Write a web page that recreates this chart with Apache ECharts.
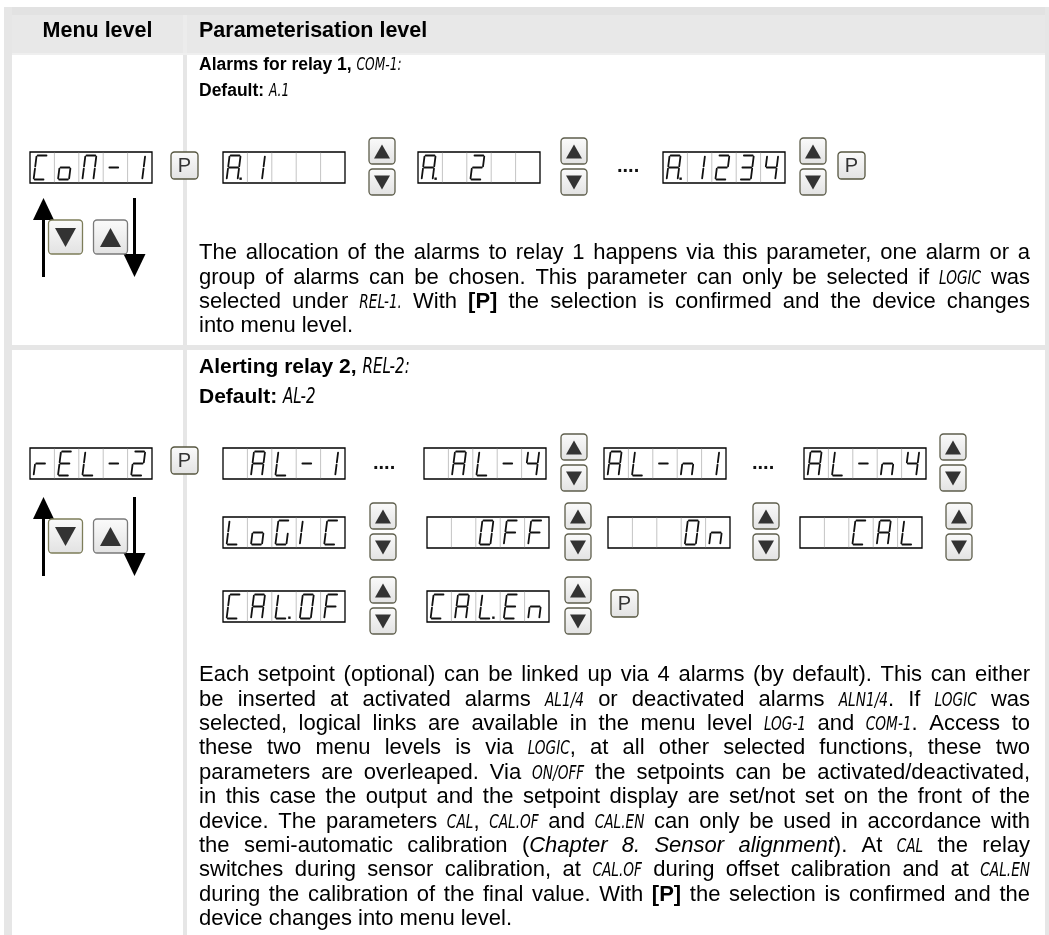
<!DOCTYPE html>
<html><head><meta charset="utf-8">
<script src="https://cdn.jsdelivr.net/npm/echarts@6/dist/echarts.min.js"></script>
<style>html,body{margin:0;padding:0;background:#fff}#c{width:1049px;height:935px}</style>
</head><body><div id="c"></div>
<script>
// ---------------- content ----------------
const headerLabels = ['Menu level', 'Parameterisation level'];
const menuDisplays = ['CoN-1', 'rEL-2'];
const relay1Heading = ['*Alarms for relay 1,* {COM-1:}', '*Default:* {A.1}'];
const relay1Options = ['A.1', 'A. 2', 'A.1234'];
const relay1Text = [
  'The allocation of the alarms to relay 1 happens via this parameter, one alarm or a',
  'group of alarms can be chosen. This parameter can only be selected if {LOGIC} was',
  'selected under {REL-1.} With *[P]* the selection is confirmed and the device changes',
  'into menu level.'
];
const relay2Heading = ['*Alerting relay 2,* {REL-2:}', '*Default:* {AL-2}'];
const relay2OptionsA = [' AL-1', ' AL-4', 'AL-n1', 'AL-n4'];
const relay2OptionsB = ['LoGIC', '  OFF', '   On', '  CAL'];
const relay2OptionsC = ['CAL.OF', 'CAL.En'];
const relay2Text = [
  'Each setpoint (optional) can be linked up via 4 alarms (by default). This can either',
  'be inserted at activated alarms {AL1/4} or deactivated alarms {ALN1/4}. If {LOGIC} was',
  'selected, logical links are available in the menu level {LOG-1} and {COM-1}. Access to',
  'these two menu levels is via {LOGIC}, at all other selected functions, these two',
  'parameters are overleaped. Via {ON/OFF} the setpoints can be activated/deactivated,',
  'in this case the output and the setpoint display are set/not set on the front of the',
  'device. The parameters {CAL}, {CAL.OF} and {CAL.EN} can only be used in accordance with',
  'the semi-automatic calibration (~Chapter 8. Sensor alignment~). At {CAL} the relay',
  'switches during sensor calibration, at {CAL.OF} during offset calibration and at {CAL.EN}',
  'during the calibration of the final value. With *[P]* the selection is confirmed and the',
  'device changes into menu level.'
];

// ---------------- styles / layout ----------------
const FONT = '"Liberation Sans", Arial, Helvetica, sans-serif';
const SEGFONT = '"DejaVu Sans Condensed", "DejaVu Sans", sans-serif';
const SEG_SX = 0.8;
const GRAY = '#e6e6e6';
const CELL_W = 24.4, BOX_H = 31;
const SEG = {a:[0,0,1,0], b:[1,0,1,.5], c:[1,.5,1,1], d:[0,1,1,1], e:[0,.5,0,1], f:[0,0,0,.5], g:[0,.5,1,.5]};
const GLYPHS = {'C':'adef','o':'cdeg','N':'abcef','-':'g','1':'bc','A':'abcefg','2':'abdeg','3':'abcdg','4':'bcfg',
  'r':'eg','E':'adefg','L':'def','n':'ceg','G':'acdef','I':'ef','O':'abcdef','F':'aefg'};

const els = [];
const cv = document.createElement('canvas').getContext('2d');
function fontStr(st){ return st.fontStyle + ' ' + st.fontWeight + ' ' + st.fontSize + 'px ' + st.fontFamily; }
function measure(t, st){ cv.font = fontStr(st); return cv.measureText(t).width * (st.sx || 1); }

function parseMarkup(str){
  const re = /\{([^}]*)\}|\*([^*]*)\*|~([^~]*)~|([^{*~]+)/g; let m; const out = [];
  while ((m = re.exec(str))) {
    if (m[1] !== undefined) out.push({t:m[1], k:'s'});
    else if (m[2] !== undefined) out.push({t:m[2], k:'b'});
    else if (m[3] !== undefined) out.push({t:m[3], k:'i'});
    else out.push({t:m[4], k:'n'});
  }
  return out;
}
function toWords(pieces){
  const words = []; let cur = [];
  pieces.forEach(p => {
    p.t.split(' ').forEach((s, i) => {
      if (i > 0) { if (cur.length) words.push(cur); cur = []; }
      if (s) cur.push({t:s, k:p.k});
    });
  });
  if (cur.length) words.push(cur);
  return words;
}
function styleOf(k, ctx){
  if (k === 's') return {fontFamily:SEGFONT, fontSize:ctx.seg, fontStyle:'italic', fontWeight:'normal', sx:SEG_SX};
  return {fontFamily:FONT, fontSize:(k==='b' ? ctx.bsize : ctx.size), fontWeight:(k==='b' ? 'bold' : 'normal'), fontStyle:(k==='i' ? 'italic' : 'normal')};
}
function layoutLine(str, x, yc, width, justify, ctx){
  const words = toWords(parseMarkup(str));
  const ww = words.map(w => w.reduce((s, p) => s + measure(p.t, styleOf(p.k, ctx)), 0));
  const sum = ww.reduce((a, b) => a + b, 0);
  const sp = (justify && words.length > 1) ? (width - sum) / (words.length - 1) : measure(' ', styleOf('n', ctx));
  const base = yc + 0.358 * ctx.size;
  let cx = x;
  words.forEach(w => {
    w.forEach(p => {
      const st = styleOf(p.k, ctx);
      const yy = base - 0.35 * st.fontSize;
      els.push({type:'text', silent:true, x:cx, y:yy, scaleX:(st.sx || 1), originX:0, originY:0,
        style:{text:p.t, x:0, y:0, fill:'#000', textAlign:'left', textVerticalAlign:'middle',
          fontFamily:st.fontFamily, fontSize:st.fontSize, fontWeight:st.fontWeight, fontStyle:st.fontStyle}});
      cx += measure(p.t, st);
    });
    cx += sp;
  });
}

function cellsOf(str){
  const cells = [];
  for (const ch of str) {
    if (ch === '.' && cells.length) cells[cells.length - 1].dot = true;
    else cells.push({ch:ch, dot:false});
  }
  while (cells.length < 5) cells.push({ch:' ', dot:false});
  return cells;
}
function display(x, y, str){
  els.push({type:'rect', silent:true, shape:{x:x, y:y, width:CELL_W*5, height:BOX_H}, style:{fill:'#fff', stroke:'#000', lineWidth:1.3}});
  for (let i = 1; i < 5; i++) {
    els.push({type:'line', silent:true, shape:{x1:x+i*CELL_W, y1:y+0.8, x2:x+i*CELL_W, y2:y+BOX_H-0.8}, style:{stroke:'#c4c4c4', lineWidth:1}});
  }
  cellsOf(str).forEach((c, i) => {
    const x0 = x + i*CELL_W + 3.6, top = y + 3.5, gh = BOX_H - 7, gw = 11, sl = 3, gap = 1.1;
    const P = (u, v) => [x0 + u*gw + (1-v)*sl, top + v*gh];
    (GLYPHS[c.ch] || '').split('').forEach(s => {
      const q = SEG[s]; const p1 = P(q[0], q[1]), p2 = P(q[2], q[3]);
      const dx = p2[0]-p1[0], dy = p2[1]-p1[1], L = Math.hypot(dx, dy);
      const ox = dx/L*gap, oy = dy/L*gap;
      els.push({type:'line', silent:true, shape:{x1:p1[0]+ox, y1:p1[1]+oy, x2:p2[0]-ox, y2:p2[1]-oy},
        style:{stroke:'#111', lineWidth:1.8, lineCap:'round'}});
    });
    if (c.dot) {
      const d = P(1, 1);
      els.push({type:'rect', silent:true, shape:{x:d[0]+1.8, y:d[1]-2, width:2.4, height:2.4}, style:{fill:'#111'}});
    }
  });
}
function keyBox(x, y, s, border){
  els.push({type:'rect', silent:true, shape:{x:x, y:y, width:s, height:s, r:3.5},
    style:{fill:new echarts.graphic.LinearGradient(0,0,0,1,[{offset:0,color:'#fbfbfb'},{offset:1,color:'#e2e2e2'}]), stroke:border, lineWidth:1.3}});
}
function tri(cx, cy, w, h, up){
  const pts = up ? [[cx, cy-h/2],[cx-w/2, cy+h/2],[cx+w/2, cy+h/2]] : [[cx-w/2, cy-h/2],[cx+w/2, cy-h/2],[cx, cy+h/2]];
  els.push({type:'polygon', silent:true, shape:{points:pts}, style:{fill:'#333'}});
}
function upDown(x, boxY){
  const s = 26;
  keyBox(x, boxY - 14, s, '#5e5e4c'); tri(x + s/2, boxY - 14 + s/2 + 0.5, 16, 14, true);
  keyBox(x, boxY + 17, s, '#5e5e4c'); tri(x + s/2, boxY + 17 + s/2 + 0.5, 16, 14, false);
}
function pKey(x, y){
  keyBox(x, y, 27, '#55553f');
  els.push({type:'text', silent:true, style:{text:'P', x:x+13.5, y:y+14.5, fill:'#333', fontFamily:FONT, fontSize:20,
    textAlign:'center', textVerticalAlign:'middle'}});
}
function dots(x, boxY){
  els.push({type:'text', silent:true, style:{text:'....', x:x, y:boxY+11, fill:'#111', fontFamily:FONT, fontWeight:'bold', fontSize:20,
    textAlign:'left', textVerticalAlign:'middle'}});
}
function navArrows(topY){
  const bot = topY + 79;
  els.push({type:'line', silent:true, shape:{x1:43.5, y1:bot, x2:43.5, y2:topY+18}, style:{stroke:'#000', lineWidth:3}});
  els.push({type:'polygon', silent:true, shape:{points:[[43.5, topY],[33, topY+22],[54, topY+22]]}, style:{fill:'#000'}});
  els.push({type:'line', silent:true, shape:{x1:134.5, y1:topY, x2:134.5, y2:bot-18}, style:{stroke:'#000', lineWidth:3}});
  els.push({type:'polygon', silent:true, shape:{points:[[123.5, bot-23],[145.5, bot-23],[134.5, bot]]}, style:{fill:'#000'}});
  keyBox(48.5, topY + 22, 34, '#7d7d5a'); tri(65.5, topY + 39.5, 21, 19, false);
  keyBox(93.5, topY + 22, 34, '#7a7a7a'); tri(110.5, topY + 39.5, 21, 19, true);
}

// ---------------- frame ----------------
els.push({type:'rect', silent:true, shape:{x:0, y:0, width:1049, height:935}, style:{fill:'#fff'}});
els.push({type:'rect', silent:true, shape:{x:4, y:7, width:1045, height:47}, style:{fill:'#e8e8e8'}});
els.push({type:'rect', silent:true, shape:{x:4, y:7, width:1045, height:8}, style:{fill:'#e2e2e2'}});
els.push({type:'rect', silent:true, shape:{x:4, y:7, width:8, height:928}, style:{fill:GRAY}});
els.push({type:'rect', silent:true, shape:{x:1045, y:7, width:4, height:928}, style:{fill:GRAY}});
els.push({type:'rect', silent:true, shape:{x:183, y:15, width:4, height:920}, style:{fill:GRAY}});
els.push({type:'rect', silent:true, shape:{x:183, y:15, width:4, height:39}, style:{fill:'#ececec'}});
els.push({type:'rect', silent:true, shape:{x:12, y:53, width:1033, height:2}, style:{fill:'#efefef'}});
els.push({type:'rect', silent:true, shape:{x:12, y:345, width:1033, height:5}, style:{fill:GRAY}});

// header
els.push({type:'text', silent:true, style:{text:headerLabels[0], x:97.5, y:31.5, fill:'#000', fontFamily:FONT, fontWeight:'bold', fontSize:21.5, textAlign:'center', textVerticalAlign:'middle'}});
els.push({type:'text', silent:true, style:{text:headerLabels[1], x:199, y:31.5, fill:'#000', fontFamily:FONT, fontWeight:'bold', fontSize:21.5, textAlign:'left', textVerticalAlign:'middle'}});

const H1CTX = {size:17.5, bsize:17.5, seg:17};
const H2CTX = {size:21, bsize:21, seg:21};
const BCTX = {size:22, bsize:22, seg:19};
const TX = 199, TW = 831, LH = 24.4;

// ---------------- row 1 ----------------
layoutLine(relay1Heading[0], TX, 65, TW, false, H1CTX);
layoutLine(relay1Heading[1], TX, 91, TW, false, H1CTX);
display(30, 152, menuDisplays[0]); pKey(171, 152);
navArrows(198);
display(223, 152, relay1Options[0]); upDown(369, 152);
display(418, 152, relay1Options[1]); upDown(561, 152);
dots(617, 155);
display(663, 152, relay1Options[2]); upDown(800, 152); pKey(838, 152);
relay1Text.forEach((l, i) => layoutLine(l, TX, 253 + i*LH, TW, i < relay1Text.length - 1, BCTX));

// ---------------- row 2 ----------------
layoutLine(relay2Heading[0], TX, 367, TW, false, H2CTX);
layoutLine(relay2Heading[1], TX, 397, TW, false, H2CTX);
display(30, 448, menuDisplays[1]); pKey(171, 447);
navArrows(497);
display(223, 448, relay2OptionsA[0]); dots(373, 452);
display(424, 448, relay2OptionsA[1]); upDown(561, 448);
display(604, 448, relay2OptionsA[2]); dots(752, 452);
display(804, 448, relay2OptionsA[3]); upDown(940, 448);
display(223, 517, relay2OptionsB[0]); upDown(370, 517);
display(427, 517, relay2OptionsB[1]); upDown(565, 517);
display(608, 517, relay2OptionsB[2]); upDown(753, 517);
display(800, 517, relay2OptionsB[3]); upDown(946, 517);
display(223, 591, relay2OptionsC[0]); upDown(370, 591);
display(427, 591, relay2OptionsC[1]); upDown(565, 591);
pKey(611, 590);
relay2Text.forEach((l, i) => layoutLine(l, TX, 675 + i*LH, TW, i < relay2Text.length - 1, BCTX));

const chart = echarts.init(document.getElementById('c'), null, {renderer:'canvas'});
chart.setOption({animation:false, graphic:{elements:els}});
</script></body></html>
